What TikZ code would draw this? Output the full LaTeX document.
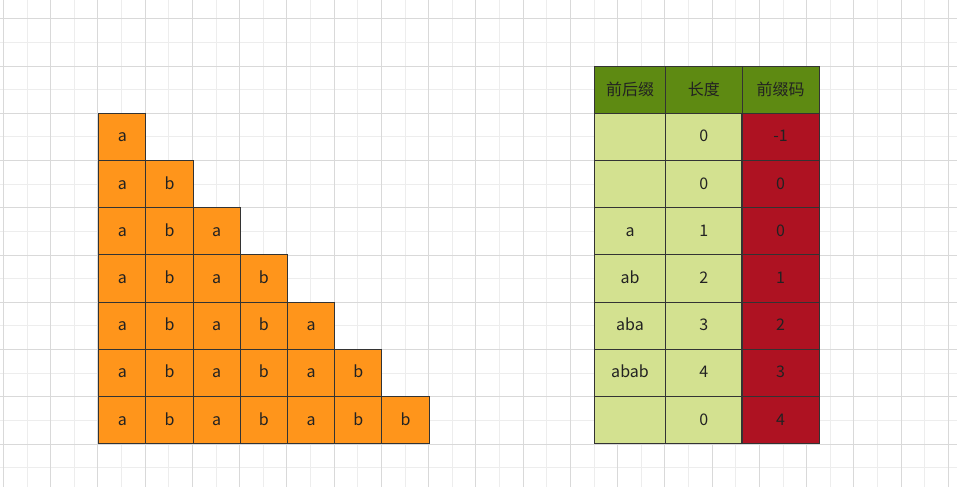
\documentclass[tikz,border=0pt]{standalone}
\usepackage{fontspec}
\setmainfont{Noto Sans CJK SC}
\definecolor{gridmajor}{HTML}{D9D9D9}
\definecolor{gridminor}{HTML}{EDEDED}
\definecolor{cellorange}{HTML}{FF951B}
\definecolor{headgreen}{HTML}{5E8A12}
\definecolor{lightgreen}{HTML}{D3E190}
\definecolor{cellred}{HTML}{AE1222}
\definecolor{edgegray}{HTML}{333333}
\definecolor{txt}{HTML}{222222}
\begin{document}
\begin{tikzpicture}[x=1pt,y=-1pt,
  cell/.style={draw=edgegray,line width=0.9pt,inner sep=0pt,outer sep=0pt,anchor=north west,
    minimum height=47.2pt,text=txt,font=\fontsize{16}{18}\selectfont,
    text height=11pt,text depth=1pt},
  sq/.style={cell,fill=cellorange,minimum width=47.2pt},
  hdr/.style={cell,fill=headgreen,text height=13pt,text depth=2pt},
  lg/.style={cell,fill=lightgreen},
  rd/.style={cell,fill=cellred},
  minorline/.style={draw=gridminor,line width=0.8pt},
  majorline/.style={draw=gridmajor,line width=0.9pt}]
\useasboundingbox (0,0) rectangle (957,487);
\fill[white] (0,0) rectangle (957,487);
% grid
\foreach \i in {0,...,20} {
  \draw[minorline] ({3.3+23.625+47.25*\i},0) -- ++(0,487);
}
\foreach \i in {0,...,10} {
  \draw[minorline] (0,{18.7-23.625+47.25*\i}) -- ++(957,0);
}
\foreach \i in {0,...,20} {
  \draw[majorline] ({3.3+47.25*\i},0) -- ++(0,487);
}
\foreach \i in {0,...,10} {
  \draw[majorline] (0,{18.7+47.25*\i}) -- ++(957,0);
}
% triangle of letters
\foreach \r in {0,...,6} {
  \foreach \c in {0,...,\r} {
    \def\lt{a}\ifodd\c\def\lt{b}\fi
    \ifnum\c=6 \def\lt{b}\fi
    \node[sq] (s-\r-\c) at ({98.7+47.2*\c},{113.3+47.2*\r}) {\lt};
  }
}
% table header
\node[hdr,minimum width=71.4pt] (h1) at (594.3,66.1) {前后缀};
\node[hdr,minimum width=76.3pt] (h2) at (665.7,66.1) {长度};
\node[hdr,minimum width=77.3pt] (h3) at (742,66.1) {前缀码};
% table body
\foreach \p/\l/\k [count=\r from 0] in {{}/0/-1,{}/0/0,a/1/0,ab/2/1,aba/3/2,abab/4/3,{}/0/4} {
  \node[lg,minimum width=71.4pt] (p-\r) at (594.3,{113.3+47.2*\r}) {\p};
  \node[lg,minimum width=76.3pt] (l-\r) at (665.7,{113.3+47.2*\r}) {\l};
  \node[rd,minimum width=77.3pt] (k-\r) at (742,{113.3+47.2*\r}) {\k};
}
\draw[edgegray,line width=1.6pt] (742,113.3) -- (742,{113.3+47.2*7});
\end{tikzpicture}
\end{document}
